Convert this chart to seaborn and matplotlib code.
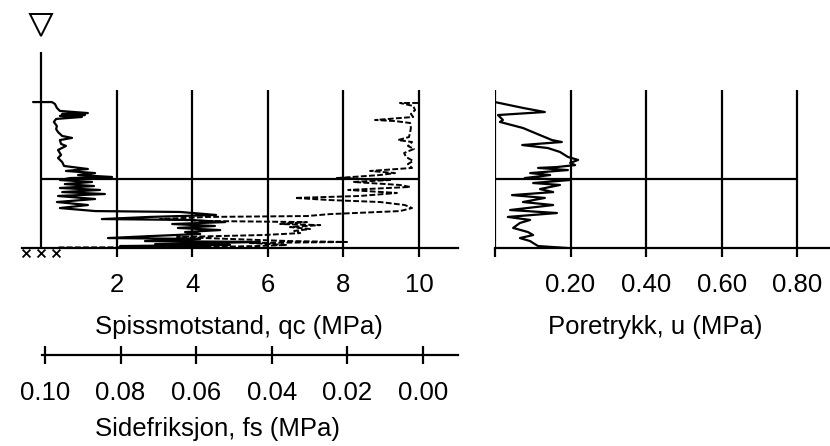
import matplotlib
matplotlib.use("Agg")
import matplotlib.pyplot as plt
import seaborn as sns
import pandas as pd

sns.set_theme(style="white")
plt.rcParams["font.family"] = ["Liberation Sans", "DejaVu Sans"]

# --- Sounding data (depth in m below reference level) ---------------------
qc_depth = [0.68, 0.68, 0.79, 1.01, 1.18, 1.30, 1.35, 1.41, 1.46, 1.52, 1.63,
            1.80, 2.03, 2.20, 2.37, 2.59, 2.70, 2.82, 3.04, 3.15, 3.38, 3.66,
            3.83, 4.06, 4.28, 4.45, 4.56, 4.68, 4.79, 4.90, 4.96, 5.07, 5.18,
            5.30, 5.41, 5.52, 5.63, 5.75, 5.86, 5.97, 6.14, 6.31, 6.48, 6.65,
            6.82, 6.87, 7.04, 7.15, 7.27, 7.32, 7.44, 7.55, 7.66, 7.77, 7.89,
            8.00, 8.11, 8.23, 8.34, 8.39, 8.51, 8.56, 8.68, 8.73, 8.79, 8.85]
qc_mpa = [-0.21, 0.29, 0.37, 0.42, 0.50, 1.24, 0.56, 1.16, 0.50, 1.08, 0.40,
          0.34, 0.42, 0.40, 0.45, 0.56, 0.82, 0.50, 0.53, 0.66, 0.45, 0.53,
          0.45, 0.56, 0.61, 1.24, 0.66, 1.43, 0.98, 1.88, 0.77, 0.50, 1.35,
          0.63, 1.40, 0.50, 1.56, 0.56, 1.69, 0.45, 1.43, 0.42, 1.24, 0.50,
          1.43, 3.68, 4.63, 2.88, 1.61, 3.94, 4.87, 3.47, 4.60, 3.62, 4.74,
          3.81, 4.21, 2.88, 1.77, 4.21, 2.75, 5.79, 3.02, 5.00, 2.09, 4.47]

fs_depth = [0.73, 0.73, 0.90, 1.13, 1.35, 1.52, 1.69, 1.75, 1.86, 2.14, 2.37,
            2.65, 2.82, 2.93, 3.15, 3.32, 3.55, 3.77, 4.00, 4.17, 4.39, 4.56,
            4.68, 4.79, 4.96, 5.07, 5.18, 5.35, 5.46, 5.63, 5.80, 5.97, 6.08,
            6.20, 6.31, 6.48, 6.65, 6.82, 6.99, 7.10, 7.15, 7.27, 7.38, 7.44,
            7.55, 7.61, 7.72, 7.83, 7.94, 8.06, 8.17, 8.28, 8.39, 8.51, 8.56,
            8.62, 8.73, 8.79, 8.85, 8.87]
fs_mpa = [0.0013, 0.0061, 0.0026, 0.0021, 0.0032, 0.0026, 0.0127, 0.0074,
          0.0034, 0.0032, 0.0034, 0.0037, 0.0066, 0.0029, 0.0040, 0.0024,
          0.0050, 0.0045, 0.0026, 0.0040, 0.0029, 0.0140, 0.0074, 0.0114,
          0.0228, 0.0087, 0.0185, 0.0061, 0.0034, 0.0198, 0.0069, 0.0167,
          0.0339, 0.0246, 0.0114, 0.0048, 0.0029, 0.0061, 0.0246, 0.0307,
          0.0571, 0.0696, 0.0571, 0.0307, 0.0378, 0.0272, 0.0352, 0.0299,
          0.0341, 0.0325, 0.0423, 0.0651, 0.0511, 0.0352, 0.0201, 0.0458,
          0.0360, 0.0439, 0.0590, 0.0968]

u_depth = [0.68, 1.01, 1.24, 1.41, 1.69, 1.80, 2.14, 2.54, 2.82, 2.93, 3.10,
           3.27, 3.49, 3.77, 3.94, 4.11, 4.23, 4.34, 4.39, 4.51, 4.68, 4.79,
           4.96, 5.07, 5.24, 5.35, 5.58, 5.75, 5.92, 6.08, 6.31, 6.48, 6.76,
           6.93, 7.15, 7.32, 7.49, 7.77, 8.00, 8.17, 8.34, 8.51, 8.62, 8.79,
           8.90]
u_mpa = [0.000, 0.074, 0.132, 0.008, 0.021, 0.013, 0.074, 0.119, 0.151, 0.177,
         0.072, 0.140, 0.172, 0.193, 0.220, 0.199, 0.212, 0.164, 0.114, 0.193,
         0.093, 0.146, 0.079, 0.199, 0.101, 0.172, 0.119, 0.154, 0.045, 0.132,
         0.074, 0.154, 0.040, 0.164, 0.034, 0.093, 0.066, 0.048, 0.087, 0.101,
         0.066, 0.093, 0.101, 0.114, 0.191]

qc_ticks = [2, 4, 6, 8, 10]
fs_ticks = [0.10, 0.08, 0.06, 0.04, 0.02, 0.00]
u_ticks = [0.0, 0.2, 0.4, 0.6, 0.8]
u_ticklabels = ["", "0.20", "0.40", "0.60", "0.80"]
grid_depth = 5.0
depth_max = 8.9
marker_x = [-0.4, 0.0, 0.4]

qc_df = pd.DataFrame({"depth": qc_depth, "qc": qc_mpa})
fs_df = pd.DataFrame({"depth": fs_depth, "fs": fs_mpa})
u_df = pd.DataFrame({"depth": u_depth, "u": u_mpa})

W, H = 830, 446
fig = plt.figure(figsize=(W / 100, H / 100), dpi=100)


def box(x0, y0, x1, y1):
    return [x0 / W, 1 - y1 / H, (x1 - x0) / W, (y1 - y0) / H]


LW = 1.6
FS = 18.5
INK = "black"

# --- qc / fs panel --------------------------------------------------------
ax_q = fig.add_axes(box(22, 52, 458, 248))
ax_q.set_facecolor("none")
ax_q.set_xlim(-0.503, 11.03)
ax_q.set_ylim(depth_max, -2.14)
for s in ("top", "right", "left"):
    ax_q.spines[s].set_visible(False)
ax_q.spines["bottom"].set_color(INK)
ax_q.spines["bottom"].set_linewidth(LW)
ax_q.set_xticks(qc_ticks)
ax_q.set_xticklabels([str(t) for t in qc_ticks])
ax_q.set_yticks([])
ax_q.tick_params(axis="x", bottom=True, direction="out", length=6.5,
                 width=LW, color=INK, labelsize=FS, labelcolor=INK, pad=11.5)
ax_q.vlines(qc_ticks, 0, depth_max, color=INK, lw=LW)
ax_q.vlines(0, -2.14, depth_max, color=INK, lw=LW)
ax_q.hlines(grid_depth, 0, 10, color=INK, lw=LW)

sns.lineplot(data=qc_df, x="qc", y="depth", sort=False, estimator=None,
             color=INK, lw=LW, ax=ax_q)
ax_q.scatter(marker_x, [9.2] * 3, marker="x", s=32, color=INK,
             linewidths=1.3, clip_on=False)
ax_q.plot([0], [-3.66], marker="v", ms=16, mfc="white", mec=INK, mew=1.4,
          clip_on=False)
ax_q.set_xlabel("")
ax_q.set_ylabel("")

ax_f = ax_q.twiny()
ax_f.set_xlim(0.1061, -0.00926)
sns.lineplot(data=fs_df, x="fs", y="depth", sort=False, estimator=None,
             color=INK, lw=1.4, linestyle=(0, (3, 1.2)), ax=ax_f)
ax_f.set_ylim(depth_max, -2.14)
ax_f.axis("off")

# separate scale for side friction
ax_s = fig.add_axes(box(42, 354, 458, 355))
ax_s.set_facecolor("none")
ax_s.set_xlim(0.1008, -0.00926)
for s in ("top", "right", "left"):
    ax_s.spines[s].set_visible(False)
ax_s.spines["bottom"].set_color(INK)
ax_s.spines["bottom"].set_linewidth(LW)
ax_s.set_yticks([])
ax_s.set_xticks(fs_ticks)
ax_s.set_xticklabels([f"{t:.2f}" for t in fs_ticks])
ax_s.tick_params(axis="x", bottom=True, direction="inout", length=13,
                 width=LW, color=INK, labelsize=FS, labelcolor=INK, pad=12)

# --- pore pressure panel --------------------------------------------------
ax_u = fig.add_axes(box(495, 90, 830, 248))
ax_u.set_facecolor("none")
ax_u.set_xlim(0, 0.887)
ax_u.set_ylim(depth_max, 0)
for s in ("top", "right", "left"):
    ax_u.spines[s].set_visible(False)
ax_u.spines["bottom"].set_color(INK)
ax_u.spines["bottom"].set_linewidth(LW)
ax_u.set_xticks(u_ticks)
ax_u.set_xticklabels(u_ticklabels)
ax_u.set_yticks([])
ax_u.tick_params(axis="x", bottom=True, direction="out", length=6.5,
                 width=LW, color=INK, labelsize=FS, labelcolor=INK, pad=11.5)
ax_u.vlines(u_ticks, 0, depth_max, color=INK, lw=LW)
ax_u.hlines(grid_depth, 0, 0.8, color=INK, lw=LW)
sns.lineplot(data=u_df, x="u", y="depth", sort=False, estimator=None,
             color=INK, lw=LW, ax=ax_u)
ax_u.set_xlabel("")
ax_u.set_ylabel("")

fig.text(95 / W, 1 - 327 / H, "Spissmotstand, qc (MPa)", ha="left",
         va="center", fontsize=FS, color=INK)
fig.text(95 / W, 1 - 429 / H, "Sidefriksjon, fs (MPa)", ha="left",
         va="center", fontsize=FS, color=INK)
fig.text(548 / W, 1 - 327 / H, "Poretrykk, u (MPa)", ha="left",
         va="center", fontsize=FS, color=INK)

fig.savefig("out.png", dpi=100)
